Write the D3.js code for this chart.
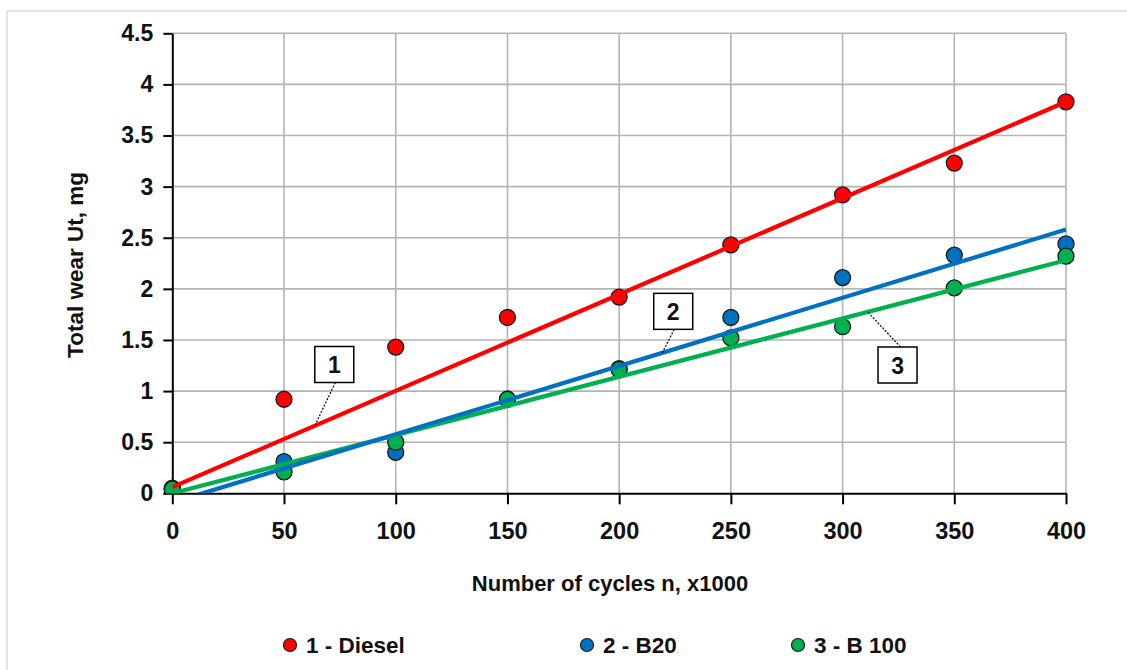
<!DOCTYPE html>
<html><head><meta charset="utf-8">
<script src="https://cdn.jsdelivr.net/npm/d3@7"></script>
<style>
html,body{margin:0;padding:0;background:#fff;}
svg{display:block;}
text{font-family:"Liberation Sans",Arial,sans-serif;font-weight:bold;fill:#111;}
</style></head>
<body>
<svg id="c" width="1127" height="670"></svg>
<script>
const cycles = [0, 50, 100, 150, 200, 250, 300, 350, 400];
const diesel = [0.05, 0.92, 1.43, 1.72, 1.92, 2.43, 2.92, 3.23, 3.83];
const b20    = [0.04, 0.31, 0.40, 0.92, 1.22, 1.72, 2.11, 2.33, 2.44];
const b100   = [0.04, 0.21, 0.50, 0.92, 1.21, 1.52, 1.63, 2.01, 2.32];
const trendX = [0, 400];
const dieselTrend = [0.06, 3.83];
const b20Trend    = [-0.09, 2.58];
const b100Trend   = [0.00, 2.28];
const seriesNames = ["1 - Diesel", "2 - B20", "3 - B 100"];
const xTicks = [0, 50, 100, 150, 200, 250, 300, 350, 400];
const yTicks = [0, 0.5, 1, 1.5, 2, 2.5, 3, 3.5, 4, 4.5];
const yTickLabels = ["0", "0.5", "1", "1.5", "2", "2.5", "3", "3.5", "4", "4.5"];
const xTitle = "Number of cycles n, x1000";
const yTitle = "Total wear Ut, mg";
const labelText = ["1", "2", "3"];
// label anchor (box centre) and leader end, in data units
const labelBoxX = [72.5, 224.2, 324.6];
const labelBoxY = [1.26, 1.78, 1.255];
const labelTipX = [64, 219.2, 311];
const labelTipY = [0.67, 1.37, 1.78];

const colors = ["#ff0000", "#0070c0", "#00b050"];
const values = [diesel, b20, b100];
const trends = [dieselTrend, b20Trend, b100Trend];

const svg = d3.select("#c");
const L = 172.3, R = 1066, T = 33.3, B = 493.3;
const x = d3.scaleLinear().domain([0, 400]).range([L, R]);
const y = d3.scaleLinear().domain([0, 4.5]).range([B, T]);

// outer frame
svg.append("line").attr("x1", 7).attr("x2", 1127).attr("y1", 11).attr("y2", 11)
  .attr("stroke", "#e4e4e4").attr("stroke-width", 2);
svg.append("line").attr("x1", 7).attr("x2", 7).attr("y1", 11).attr("y2", 670)
  .attr("stroke", "#e4e4e4").attr("stroke-width", 2);

// gridlines
const grid = svg.append("g");
grid.selectAll(".gx").data(xTicks.filter(d => d > 0)).join("line")
  .attr("x1", d => x(d)).attr("x2", d => x(d)).attr("y1", T).attr("y2", B)
  .attr("stroke", "#b4b4b4").attr("stroke-width", 1.6);
grid.selectAll(".gy").data(yTicks.filter(d => d > 0)).join("line")
  .attr("x1", L).attr("x2", R).attr("y1", d => y(d)).attr("y2", d => y(d))
  .attr("stroke", "#b4b4b4").attr("stroke-width", 1.6);

// axes
const xAxis = d3.axisBottom(x).tickValues(xTicks).tickSize(11).tickPadding(18).tickSizeOuter(0);
const gx = svg.append("g").attr("transform", `translate(0,${B})`).call(xAxis);
gx.select(".domain").attr("stroke", "#000").attr("stroke-width", 2);
gx.selectAll(".tick line").attr("stroke", "#000").attr("stroke-width", 2);
gx.selectAll(".tick text").attr("font-size", 23.5).attr("fill", "#111").attr("dy", "0.72em")
  .attr("font-family", "Liberation Sans, Arial, sans-serif").attr("font-weight", "bold");

const yAxis = d3.axisLeft(y).tickValues(yTicks).tickFormat((d, i) => yTickLabels[i])
  .tickSize(9).tickPadding(10).tickSizeOuter(0);
const gy = svg.append("g").attr("transform", `translate(${L},0)`).call(yAxis);
gy.select(".domain").attr("stroke", "#000").attr("stroke-width", 2);
gy.selectAll(".tick line").attr("stroke", "#000").attr("stroke-width", 2);
gy.selectAll(".tick text").attr("font-size", 23).attr("fill", "#111")
  .attr("font-family", "Liberation Sans, Arial, sans-serif").attr("font-weight", "bold");

// titles
svg.append("text").attr("x", 610).attr("y", 591).attr("text-anchor", "middle")
  .attr("font-size", 22).text(xTitle);
svg.append("text").attr("transform", "translate(83,265) rotate(-90)")
  .attr("text-anchor", "middle").attr("font-size", 22.5).text(yTitle);

// clip
svg.append("clipPath").attr("id", "plot").append("rect")
  .attr("x", L - 12).attr("y", T - 12).attr("width", R - L + 24).attr("height", B - T + 12);
svg.append("clipPath").attr("id", "plotL").append("rect")
  .attr("x", L).attr("y", T).attr("width", R - L + 2).attr("height", B - T);

const line = d3.line().x(d => x(d[0])).y(d => y(d[1]));

// markers
const mk = svg.append("g").attr("clip-path", "url(#plot)");
values.forEach((vals, s) => {
  mk.append("g").selectAll("circle").data(cycles.map((c, i) => [c, vals[i]])).join("circle")
    .attr("cx", d => x(d[0])).attr("cy", d => y(d[1])).attr("r", 8)
    .attr("fill", colors[s]).attr("stroke", "#1a1a1a").attr("stroke-width", 1.3);
});

// trend lines
const tl = svg.append("g").attr("clip-path", "url(#plotL)");
[2, 1, 0].forEach(s => {
  tl.append("path").datum(trendX.map((c, i) => [c, trends[s][i]]))
    .attr("d", line).attr("fill", "none").attr("stroke", colors[s]).attr("stroke-width", 4.2);
});

// number labels
labelText.forEach((t, i) => {
  const cx = x(labelBoxX[i]), cy = y(labelBoxY[i]);
  const tx = x(labelTipX[i]), ty = y(labelTipY[i]);
  const w = 39, h = 36;
  const sy = ty > cy ? cy + h / 2 : cy - h / 2;
  const sx = cx + (ty > cy ? 1 : 3);
  svg.append("line").attr("x1", sx).attr("y1", sy).attr("x2", tx).attr("y2", ty)
    .attr("stroke", "#000").attr("stroke-width", 1.2).attr("stroke-dasharray", "2,1.5");
  svg.append("rect").attr("x", cx - w / 2).attr("y", cy - h / 2).attr("width", w).attr("height", h)
    .attr("fill", "#fff").attr("stroke", "#000").attr("stroke-width", 1.5);
  svg.append("text").attr("x", cx).attr("y", cy + 8.5).attr("text-anchor", "middle")
    .attr("font-size", 23).text(t);
});

// legend
const legX = [290, 587, 798];
const leg = svg.append("g");
seriesNames.forEach((n, i) => {
  leg.append("circle").attr("cx", legX[i]).attr("cy", 645).attr("r", 6.5)
    .attr("fill", colors[i]).attr("stroke", "#1a1a1a").attr("stroke-width", 1.2);
  leg.append("text").attr("x", legX[i] + 16).attr("y", 652.5).attr("font-size", 22.5).text(n);
});
</script>
</body></html>
